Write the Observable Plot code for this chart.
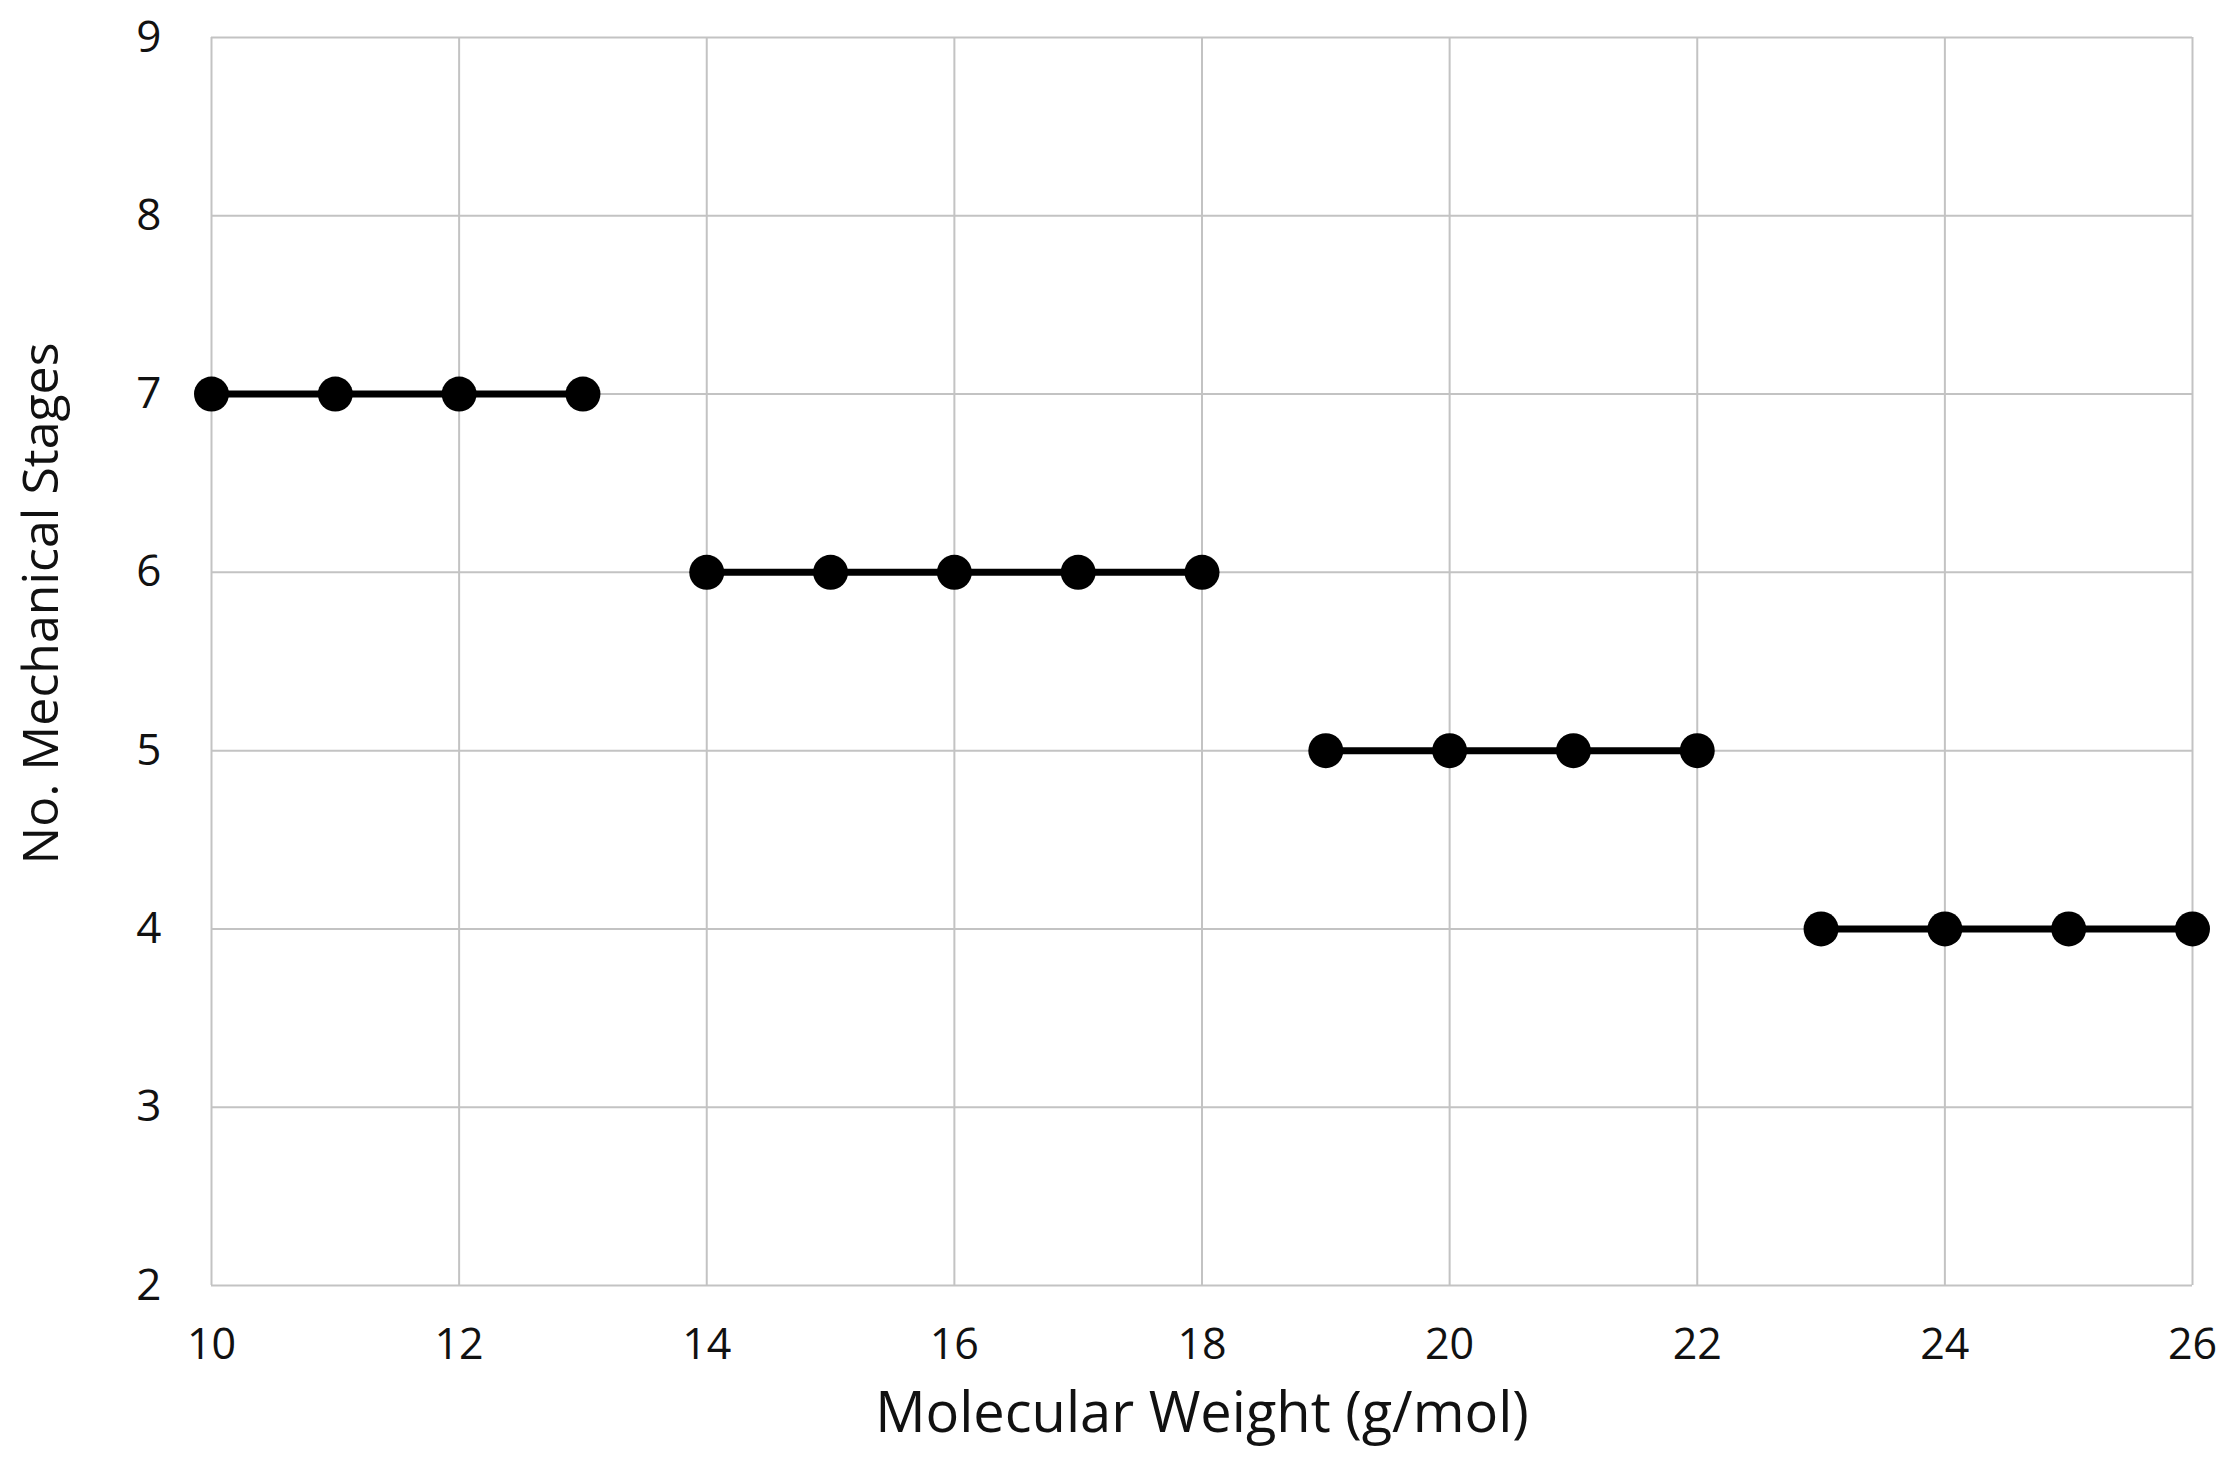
<!DOCTYPE html>
<html>
<head>
<meta charset="utf-8">
<script src="https://cdn.jsdelivr.net/npm/d3@7"></script>
<script src="https://cdn.jsdelivr.net/npm/@observablehq/plot@0.6"></script>
<style>
  html, body { margin: 0; padding: 0; background: #ffffff; }
  #chart { width: 2230px; height: 1459px; }
</style>
</head>
<body>
<div id="chart"></div>
<script>
// Data
const molecularWeight = [10, 11, 12, 13, 14, 15, 16, 17, 18, 19, 20, 21, 22, 23, 24, 25, 26];
const mechanicalStages = [7, 7, 7, 7, 6, 6, 6, 6, 6, 5, 5, 5, 5, 4, 4, 4, 4];
const xTicks = [10, 12, 14, 16, 18, 20, 22, 24, 26];
const yTicks = [2, 3, 4, 5, 6, 7, 8, 9];
const xTitle = "Molecular Weight (g/mol)";
const yTitle = "No. Mechanical Stages";

const data = molecularWeight.map((x, i) => ({x, y: mechanicalStages[i]}));

const font = "'Open Sans', 'DejaVu Sans', sans-serif";
const grid = "#c3c3c3";

const chart = Plot.plot({
  width: 2230,
  height: 1459,
  marginLeft: 211,
  marginRight: 38,
  marginTop: 37,
  marginBottom: 174,
  style: {background: "#ffffff", fontFamily: font, color: "#111111"},
  x: {domain: [10, 26]},
  y: {domain: [2, 9]},
  marks: [
    Plot.ruleX(xTicks, {stroke: grid, strokeWidth: 2}),
    Plot.ruleY(yTicks, {stroke: grid, strokeWidth: 2}),
    Plot.axisX(xTicks, {tickSize: 0, tickPadding: 43, fontSize: 43, fontFamily: font, label: null, tickFormat: d => String(d)}),
    Plot.axisY(yTicks, {tickSize: 0, tickPadding: 50, fontSize: 44, fontFamily: font, label: null, tickFormat: d => String(d)}),
    Plot.line(data, {x: "x", y: "y", z: "y", stroke: "#000000", strokeWidth: 7}),
    Plot.dot(data, {x: "x", y: "y", r: 17.5, fill: "#000000", stroke: "none"}),
    Plot.text([xTitle], {frameAnchor: "bottom", textAnchor: "middle", text: d => d, dy: 129, fontSize: 56, fontFamily: font, fill: "#111111", lineAnchor: "middle"}),
    Plot.text([yTitle], {frameAnchor: "left", textAnchor: "middle", text: d => d, dx: -170, dy: -58, rotate: -90, fontSize: 50, fontFamily: font, fill: "#111111", lineAnchor: "middle"})
  ]
});

document.getElementById("chart").appendChild(chart);
</script>
</body>
</html>
